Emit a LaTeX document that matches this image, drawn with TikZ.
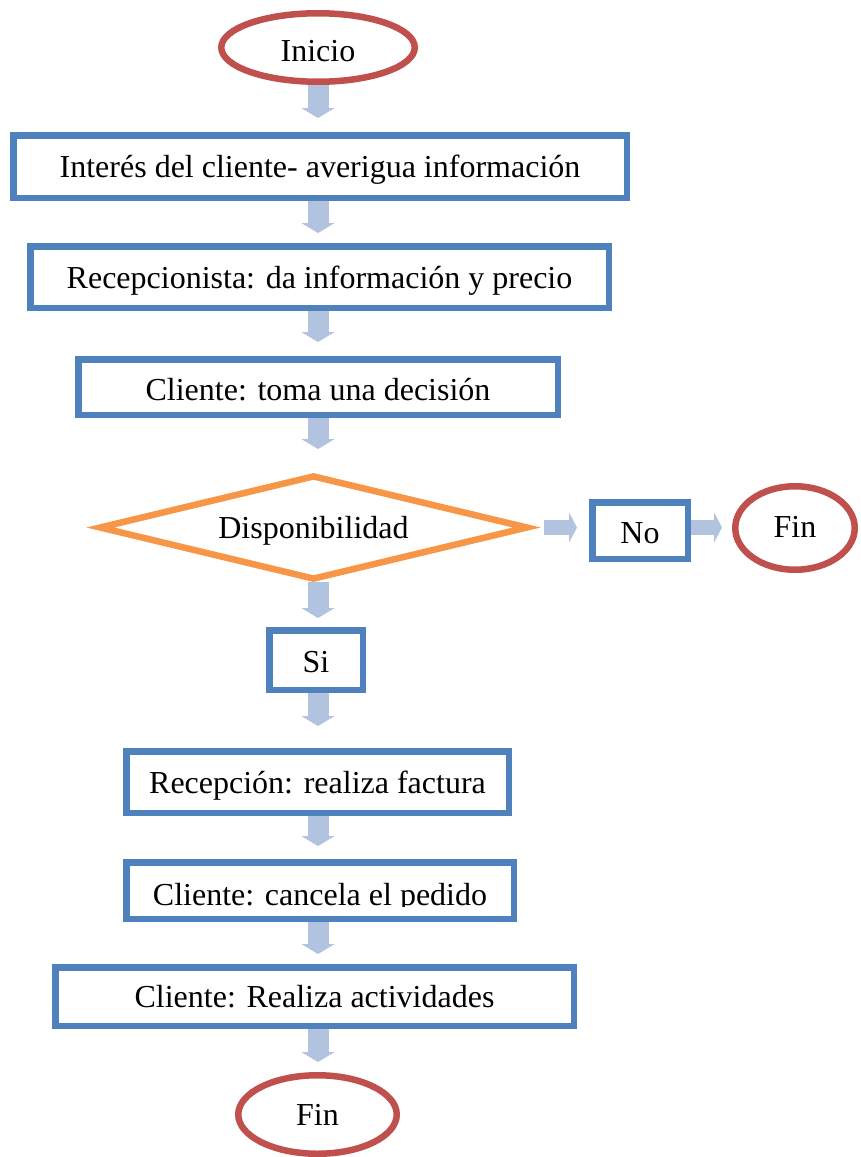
\documentclass[tikz,border=0pt]{standalone}
\usepackage{fontspec}
\setmainfont{Liberation Serif}
\usetikzlibrary{shapes.geometric,arrows.meta}
\definecolor{bxblue}{RGB}{79,129,189}
\definecolor{elred}{RGB}{192,80,77}
\definecolor{dorange}{RGB}{247,150,70}
\definecolor{arrblue}{RGB}{178,195,223}
\begin{document}
\begin{tikzpicture}[x=1pt,y=-1pt,
  every node/.style={font=\fontsize{32}{38}\selectfont, inner sep=0pt, text height=22pt, text depth=0pt},
  procbox/.style={draw=bxblue, line width=6.5pt, rectangle},
  term/.style={draw=elred, line width=6.5pt, ellipse},
  decis/.style={draw=dorange, line width=6.5pt, line join=miter},
  vflow/.style={draw=arrblue, line width=21pt, -{Triangle[width=33pt,length=10pt]}},
  hflow/.style={draw=arrblue, line width=15pt, -{Triangle[width=30pt,length=8pt]}}
]
\useasboundingbox (0,0) rectangle (861,1157);
\coordinate (col) at (318,0);

\node[term, minimum width=193.5pt, minimum height=68.5pt, text height=28pt] (inicio) at (318,47.5) {Inicio};
\node[procbox, minimum width=613.5pt, minimum height=62.5pt] (b1) at (320,166.5) {Interés del cliente- averigua información};
\node[procbox, minimum width=578.5pt, minimum height=61.5pt] (b2) at (319.5,277) {Recepcionista: da información y precio};
\node[procbox, minimum width=479.5pt, minimum height=55.5pt, text height=26pt] (b3) at (318,387) {Cliente: toma una decisión};

\node (dia) at (313.5,527.5) {Disponibilidad};
\coordinate (dW) at (100.3,527.5);
\coordinate (dE) at (526.7,527.5);
\coordinate (dN) at (313.5,476.4);
\coordinate (dS) at (313.5,578.6);
\draw[decis] (dW) -- (dN) -- (dE) -- (dS) -- cycle;

\node[procbox, minimum width=95.5pt, minimum height=56.5pt, text height=25pt] (no) at (640,530.5) {No};
\node[term, minimum width=119.5pt, minimum height=83.5pt, text height=18pt] (fin1) at (795,528) {Fin};
\node[procbox, minimum width=93.5pt, minimum height=59.5pt, text height=24pt] (si) at (316,660) {Si};
\node[procbox, minimum width=382.5pt, minimum height=61.5pt] (b4) at (317.5,782) {Recepción: realiza factura};
\node[procbox, minimum width=387.5pt, minimum height=56.5pt] (b5) at (320,890.5) {};
\begin{scope}
\clip (127,862) rectangle (513,906);
\node[anchor=base] (b5t) at (320,905) {Cliente: cancela el pedido};
\end{scope}
\node[procbox, minimum width=518.5pt, minimum height=58.5pt] (b6) at (314.5,996.5) {Cliente: Realiza actividades};
\node[term, minimum width=158.5pt, minimum height=78.5pt] (fin2) at (317.5,1114.5) {Fin};

\draw[vflow, shorten >=14pt] (inicio.south -| col) -- (b1.north -| col);
\draw[vflow, shorten >=10pt] (b1.south -| col) -- (b2.north -| col);
\draw[vflow, shorten >=14pt] (b2.south -| col) -- (b3.north -| col);
\draw[vflow, shorten >=27.4pt] (b3.south -| col) -- (dN -| col);
\draw[vflow, shorten <=3.4pt, shorten >=9pt] (dS -| col) -- (si.north -| col);
\draw[vflow, shorten >=22pt] (si.south -| col) -- (b4.north -| col);
\draw[vflow, shorten >=13pt] (b4.south -| col) -- (b5.north -| col);
\draw[vflow, shorten >=10pt] (b5.south -| col) -- (b6.north -| col);
\draw[vflow, shorten >=10pt] (b6.south -| col) -- (fin2.north -| col);
\draw[hflow, shorten <=17.3pt, shorten >=12pt] (dE) -- (no.west |- dE);
\draw[hflow, shorten >=10pt] (no.east |- dE) -- (fin1.west |- dE);
\end{tikzpicture}
\end{document}
